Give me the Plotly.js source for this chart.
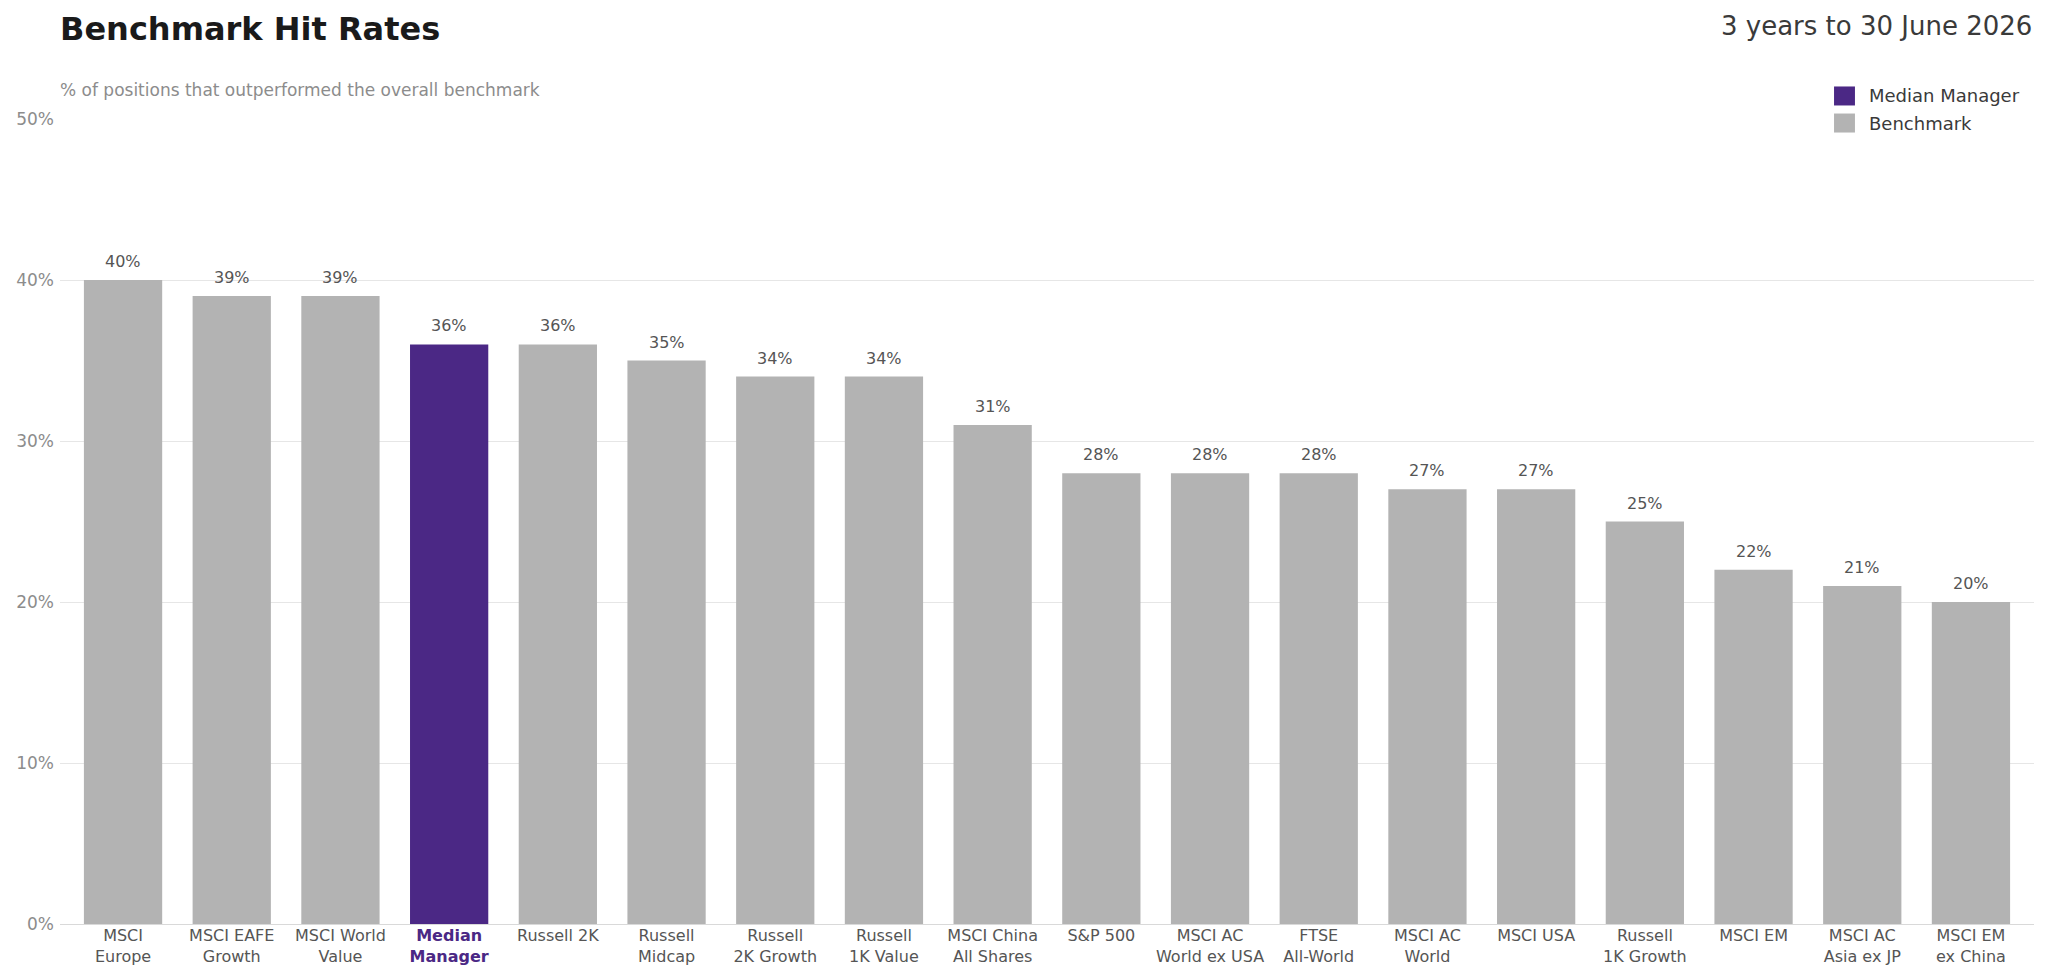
<!DOCTYPE html>
<html>
<head>
<meta charset="utf-8">
<script src="https://cdn.plot.ly/plotly-3.0.1.min.js"></script>
<style>
  html, body { margin: 0; padding: 0; background: #fff; }
  #chart { width: 2048px; height: 980px; }
</style>
</head>
<body>
<div id="chart"></div>
<script>
// benchmarks, sorted by hit rate
var categories = ['MSCI<br>Europe', 'MSCI EAFE<br>Growth', 'MSCI World<br>Value', 'Median<br>Manager',
  'Russell 2K', 'Russell<br>Midcap', 'Russell<br>2K Growth', 'Russell<br>1K Value',
  'MSCI China<br>All Shares', 'S&P 500', 'MSCI AC<br>World ex USA', 'FTSE<br>All-World',
  'MSCI AC<br>World', 'MSCI USA', 'Russell<br>1K Growth', 'MSCI EM', 'MSCI AC<br>Asia ex JP',
  'MSCI EM<br>ex China'];
var hitRates = [40, 39, 39, 36, 36, 35, 34, 34, 31, 28, 28, 28, 27, 27, 25, 22, 21, 20];
var highlight = 'Median<br>Manager';
var yTicks = [0, 10, 20, 30, 40, 50];
var yTickText = ['0%', '10%', '20%', '30%', '40%', '50%'];

var purple = '#4b2885';
var grey = '#b3b3b3';

function makePlot(){
  var idx = categories.map(function(c, i){ return i; });
  var hi = categories.indexOf(highlight);

  var benchY = hitRates.map(function(v, i){ return i === hi ? null : v; });
  var medY = hitRates.map(function(v, i){ return i === hi ? v : null; });

  var trace1 = {
    x: idx, y: benchY, type: 'bar', name: 'Benchmark',
    width: 0.72, marker: {color: grey}, hoverinfo: 'y'
  };
  var trace2 = {
    x: idx, y: medY, type: 'bar', name: 'Median Manager',
    width: 0.72, marker: {color: purple}, hoverinfo: 'y'
  };

  var ticktext = categories.map(function(c){
    return c === highlight ? '<b><span style="color:' + purple + '">' + c + '</span></b>' : c;
  });

  // value labels over each bar
  var annotations = hitRates.map(function(v, i){
    return {
      x: i, y: v, xref: 'x', yref: 'y', text: v + '%', showarrow: false,
      yanchor: 'bottom', yshift: 7, font: {size: 16, color: '#555555'}
    };
  });

  annotations.push({
    xref: 'paper', yref: 'paper', x: 0, y: 1.0348, xanchor: 'left', yanchor: 'middle',
    xshift: -2, yshift: 1,
    text: '% of positions that outperformed the overall benchmark', showarrow: false,
    font: {size: 17, color: '#8c8c8c'}
  });
  annotations.push({
    xref: 'paper', yref: 'paper', x: 1, y: 1.1155, xanchor: 'right', yanchor: 'middle',
    text: '3 years to 30 June 2026', showarrow: false,
    font: {size: 26, color: '#3a3a3a'}
  });

  // legend, drawn by hand so the swatches match
  var legendItems = [['Median Manager', purple, 1.0286], ['Benchmark', grey, 0.995]];
  var shapes = [];
  legendItems.forEach(function(it){
    shapes.push({
      type: 'rect', xref: 'paper', yref: 'paper',
      x0: 0.8987, x1: 0.9093, y0: it[2] - 0.0118, y1: it[2] + 0.0118,
      fillcolor: it[1], line: {width: 0}
    });
    annotations.push({
      xref: 'paper', yref: 'paper', x: 0.9164, y: it[2], xanchor: 'left', yanchor: 'middle',
      xshift: -2,
      text: it[0], showarrow: false, font: {size: 18, color: '#3a3a3a'}
    });
  });

  var layout = {
    width: 2048, height: 980,
    margin: {l: 60, r: 14, t: 119, b: 56},
    font: {family: 'DejaVu Sans, sans-serif', color: '#555555'},
    paper_bgcolor: '#ffffff', plot_bgcolor: '#ffffff',
    title: {
      text: '<b>Benchmark Hit Rates</b>', xref: 'paper', x: 0, xanchor: 'left',
      yref: 'container', y: 0.9704, yanchor: 'middle',
      font: {size: 32, color: '#1a1a1a'}
    },
    barmode: 'overlay',
    showlegend: false,
    xaxis: {
      range: [-0.58, 17.58], tickvals: idx, ticktext: ticktext,
      showgrid: false, zeroline: false, showline: false, ticks: '',
      tickfont: {size: 16, color: '#555555'}, fixedrange: true
    },
    yaxis: {
      range: [0, 50], tickmode: 'array', tickvals: yTicks, ticktext: yTickText,
      showgrid: true, gridcolor: '#e6e6e6', gridwidth: 1,
      zeroline: true, zerolinecolor: '#d9d9d9', zerolinewidth: 1,
      showline: false, ticks: '', ticklabelstandoff: 5,
      tickfont: {size: 17, color: '#8c8c8c'},
      fixedrange: true
    },
    annotations: annotations,
    shapes: shapes
  };

  Plotly.newPlot('chart', [trace1, trace2], layout, {displayModeBar: false, staticPlot: true});
}

makePlot();
</script>
</body>
</html>
